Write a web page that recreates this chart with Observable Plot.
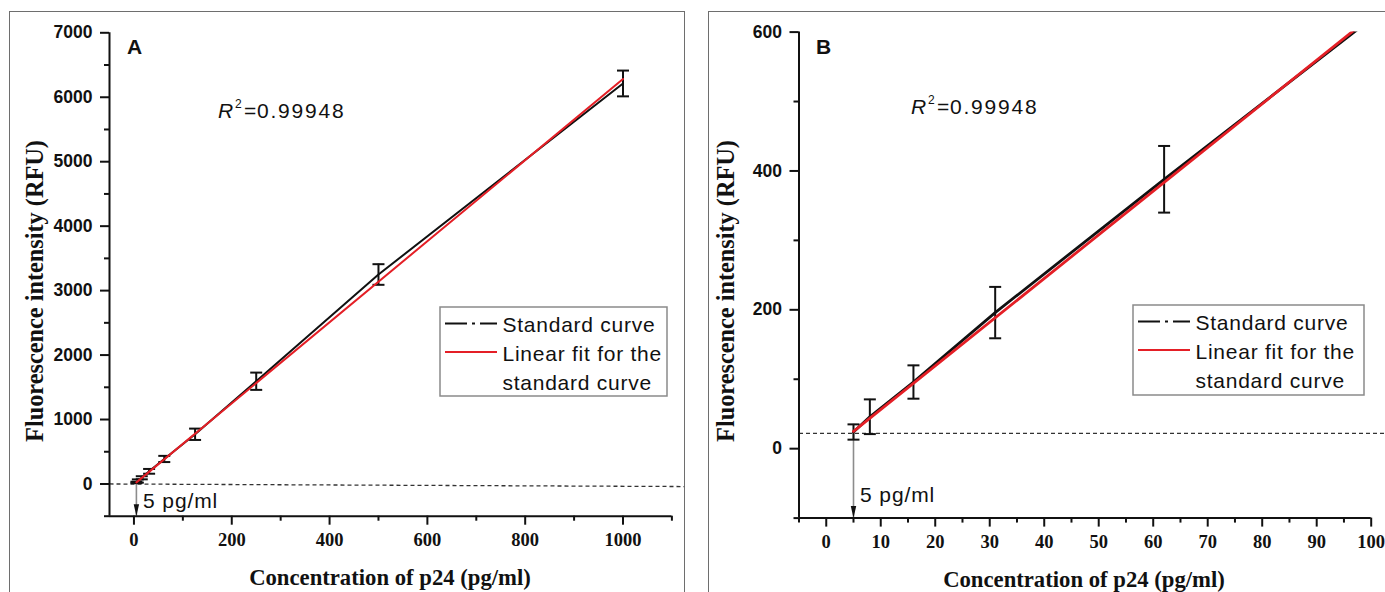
<!DOCTYPE html>
<html>
<head>
<meta charset="utf-8">
<script src="https://cdn.jsdelivr.net/npm/d3@7"></script>
<script src="https://cdn.jsdelivr.net/npm/@observablehq/plot@0.6"></script>
<style>
  html, body { margin: 0; padding: 0; background: #fff; overflow: hidden; }
  #root { position: relative; width: 1385px; height: 592px; overflow: hidden; background: #fff; }
  .border { position: absolute; border: 1.6px solid #6e6e6e; box-sizing: border-box; }
  .plotwrap { position: absolute; top: 0; }
  #overlay { position: absolute; left: 0; top: 0; pointer-events: none; }
  g[aria-label="y-axis tick label"] text { font-family: "Liberation Sans", Arial, sans-serif; font-weight: bold; font-size: 17.5px; fill: #111; }
  g[aria-label="x-axis tick label"] text { font-family: "Liberation Serif", "Times New Roman", serif; font-weight: bold; font-size: 18.5px; fill: #111; }
</style>
</head>
<body>
<div id="root">
  <div class="border" style="left:9px; top:11px; width:676px; height:640px;"></div>
  <div class="border" style="left:708px; top:11px; width:700px; height:640px;"></div>
  <div class="plotwrap" id="pa" style="left:0px;"></div>
  <div class="plotwrap" id="pb" style="left:692px;"></div>
  <svg id="overlay" width="1385" height="592"></svg>
</div>
<script>
// ---------------- data ----------------
const conc    = [5, 8, 16, 31, 62, 125, 250, 500, 1000];          // p24, pg/ml
const meanRFU = [24, 46, 96, 196, 388, 771, 1594, 3250, 6214];    // standard curve
const sdRFU   = [11, 25, 24, 37, 48, 88, 134, 160, 200];          // error bars
const fitConc = [5, 1000];                                        // linear fit end points
const fitRFU  = [25, 6283];
const lodConc = [5];                                              // detection limit, pg/ml
const cutoffA = [0, -40];                                         // dashed cut-off line in panel A (left, right)
const cutoffB = [22];                                             // dashed cut-off line in panel B

const xMajorA = [0, 200, 400, 600, 800, 1000];
const xMinorA = [100, 300, 500, 700, 900, 1100];
const yMajorA = [0, 1000, 2000, 3000, 4000, 5000, 6000, 7000];
const yMinorA = [-500, 500, 1500, 2500, 3500, 4500, 5500, 6500];
const xMajorB = [0, 10, 20, 30, 40, 50, 60, 70, 80, 90, 100];
const xMinorB = [-5, 5, 15, 25, 35, 45, 55, 65, 75, 85, 95];
const yMajorB = [0, 200, 400, 600];
const yMinorB = [-100, 100, 300, 500];

const legendLabels = ["Standard curve", "Linear fit for the", "standard curve"];
const r2Text = "0.99948";
const xTitle = "Concentration of p24 (pg/ml)";
const yTitle = "Fluorescence intensity (RFU)";
const lodLabel = "5 pg/ml";

// ---------------- helpers ----------------
const RED = "#e41f26";
const INK = "#111";
const pts = conc.map((c, i) => ({c, v: meanRFU[i], e: sdRFU[i]}));
const fit = fitConc.map((c, i) => ({c, v: fitRFU[i]}));

const capSym = {draw(ctx) { ctx.moveTo(-6, 0); ctx.lineTo(6, 0); }};
const headSym = {draw(ctx) { ctx.moveTo(0, 0); ctx.lineTo(-2.7, -12); ctx.lineTo(2.7, -12); ctx.closePath(); }};

function panel({width, margins, xDomain, yDomain, xMajor, xMinor, yMajor, yMinor, data, lineW, dashed, xEdge}) {
  const [x0] = xDomain, [y0] = yDomain;
  return Plot.plot({
    width, height: 592,
    marginLeft: margins[0], marginRight: margins[1], marginTop: margins[2], marginBottom: margins[3],
    x: {domain: xDomain, label: null},
    y: {domain: yDomain, label: null},
    style: {background: "transparent", overflow: "visible", fontFamily: "Liberation Sans, Arial, sans-serif"},
    marks: [
      // dashed cut-off line
      Plot.link([0], {x1: () => x0, x2: () => xEdge, y1: () => dashed[0], y2: () => dashed[dashed.length - 1],
        stroke: "#333", strokeWidth: 1.3, strokeDasharray: "4,3"}),
      // detection-limit arrow
      Plot.ruleX(lodConc, {x: d => d, y1: () => dashed[0], y2: () => y0, stroke: "#8c8c8c", strokeWidth: 1.6}),
      Plot.dot(lodConc, {x: d => d, y: () => y0, symbol: headSym, fill: INK, stroke: "none"}),
      // standard curve
      Plot.line(pts, {x: "c", y: "v", stroke: INK, strokeWidth: lineW, clip: true}),
      // error bars
      Plot.ruleX(data, {x: "c", y1: d => d.v - d.e, y2: d => d.v + d.e, stroke: INK, strokeWidth: 2}),
      Plot.dot(data, {x: "c", y: d => d.v + d.e, symbol: capSym, fill: "none", stroke: INK, strokeWidth: 2}),
      Plot.dot(data, {x: "c", y: d => d.v - d.e, symbol: capSym, fill: "none", stroke: INK, strokeWidth: 2}),
      // linear fit
      Plot.line(fit, {x: "c", y: "v", stroke: RED, strokeWidth: lineW, clip: true}),
      // axes
      Plot.ruleX([x0], {stroke: INK, strokeWidth: 2}),
      Plot.ruleY([y0], {stroke: INK, strokeWidth: 2}),
      Plot.axisX({ticks: xMajor, tickSize: 9, tickPadding: 8, tickFormat: d => String(d), label: null,
        strokeWidth: 2, stroke: INK, fontSize: 18.5, fontWeight: "bold", fontFamily: "Liberation Serif, serif"}),
      Plot.axisX({ticks: xMinor, tickSize: 5, tickFormat: () => "", label: null, strokeWidth: 2, stroke: INK}),
      Plot.axisY({ticks: yMajor, tickSize: 9, tickPadding: 8, tickFormat: d => String(d), label: null,
        strokeWidth: 2, stroke: INK, fontSize: 17.5, fontWeight: "bold", fontFamily: "Liberation Sans, sans-serif"}),
      Plot.axisY({ticks: yMinor, tickSize: 5, tickFormat: () => "", label: null, strokeWidth: 2, stroke: INK})
    ]
  });
}

document.getElementById("pa").append(panel({
  width: 690, margins: [109, 18.6, 32.3, 76.3],
  xDomain: [-50, 1100], yDomain: [-500, 7000],
  xMajor: xMajorA, xMinor: xMinorA, yMajor: yMajorA, yMinor: yMinorA,
  data: pts, lineW: 2, dashed: cutoffA, xEdge: 1125
}));

document.getElementById("pb").append(panel({
  width: 693, margins: [106.5, 14.3, 31.6, 74.4],
  xDomain: [-5, 100], yDomain: [-100, 600],
  xMajor: xMajorB, xMinor: xMinorB, yMajor: yMajorB, yMinor: yMinorB,
  data: pts.filter(d => d.c <= 100), lineW: 2.8, dashed: cutoffB, xEdge: 103
}));

// ---------------- annotations (titles, R², legends) ----------------
const ov = d3.select("#overlay");
const sans = "Liberation Sans, Arial, sans-serif";
const serif = "Liberation Serif, Times New Roman, serif";

function annotate(o) {
  ov.append("text").attr("x", o.xt[0]).attr("y", o.xt[1]).attr("text-anchor", "middle")
    .attr("font-family", serif).attr("font-weight", "bold").attr("font-size", 22.7).attr("fill", INK).text(xTitle);
  ov.append("text").attr("transform", `translate(${o.yt[0]},${o.yt[1]}) rotate(-90)`).attr("text-anchor", "middle")
    .attr("font-family", serif).attr("font-weight", "bold").attr("font-size", 24.3).attr("fill", INK).text(yTitle);
  ov.append("text").attr("x", o.letter[0]).attr("y", o.letter[1]).attr("font-family", sans)
    .attr("font-weight", "bold").attr("font-size", 21).attr("fill", INK).text(o.name);
  const [rx, ry] = o.r2;
  ov.append("text").attr("x", rx).attr("y", ry).attr("font-family", sans).attr("font-style", "italic")
    .attr("font-size", 21).attr("fill", INK).text("R");
  ov.append("text").attr("x", rx + 17).attr("y", ry - 10).attr("font-family", sans)
    .attr("font-size", 12).attr("fill", INK).text("2");
  ov.append("text").attr("x", rx + 26).attr("y", ry).attr("font-family", sans)
    .attr("font-size", 21).attr("fill", INK).text("=");
  ov.append("text").attr("x", rx + 39).attr("y", ry).attr("font-family", sans)
    .attr("font-size", 21).attr("letter-spacing", 1.8).attr("fill", INK).text(r2Text);
  ov.append("text").attr("x", o.lod[0]).attr("y", o.lod[1]).attr("font-family", sans)
    .attr("font-size", 21).attr("letter-spacing", 0.9).attr("fill", INK).text(lodLabel);
  const [lx, ly, lw, lh] = o.leg;
  ov.append("rect").attr("x", lx).attr("y", ly).attr("width", lw).attr("height", lh)
    .attr("fill", "#fff").attr("stroke", "#8a8a8a").attr("stroke-width", 1.5);
  ov.append("line").attr("x1", lx + 5).attr("x2", lx + 57).attr("y1", ly + 16.5).attr("y2", ly + 16.5)
    .attr("stroke", INK).attr("stroke-width", 2).attr("stroke-dasharray", "22 5 3 5 17");
  ov.append("line").attr("x1", lx + 5).attr("x2", lx + 57).attr("y1", ly + 45).attr("y2", ly + 45)
    .attr("stroke", RED).attr("stroke-width", 2);
  legendLabels.forEach((t, i) => {
    ov.append("text").attr("x", lx + 62.5).attr("y", ly + 24.5 + i * 29.2).attr("font-family", sans)
      .attr("font-size", 21).attr("letter-spacing", 0.75).attr("fill", INK).text(t);
  });
}

annotate({name: "A", xt: [390, 585], yt: [43, 291], letter: [127, 54], r2: [218, 118],
  lod: [143, 508], leg: [440, 307, 227, 89]});
annotate({name: "B", xt: [1084, 587], yt: [734, 291], letter: [816, 54], r2: [911, 114],
  lod: [860, 502], leg: [1133, 305, 231, 90]});
</script>
</body>
</html>
